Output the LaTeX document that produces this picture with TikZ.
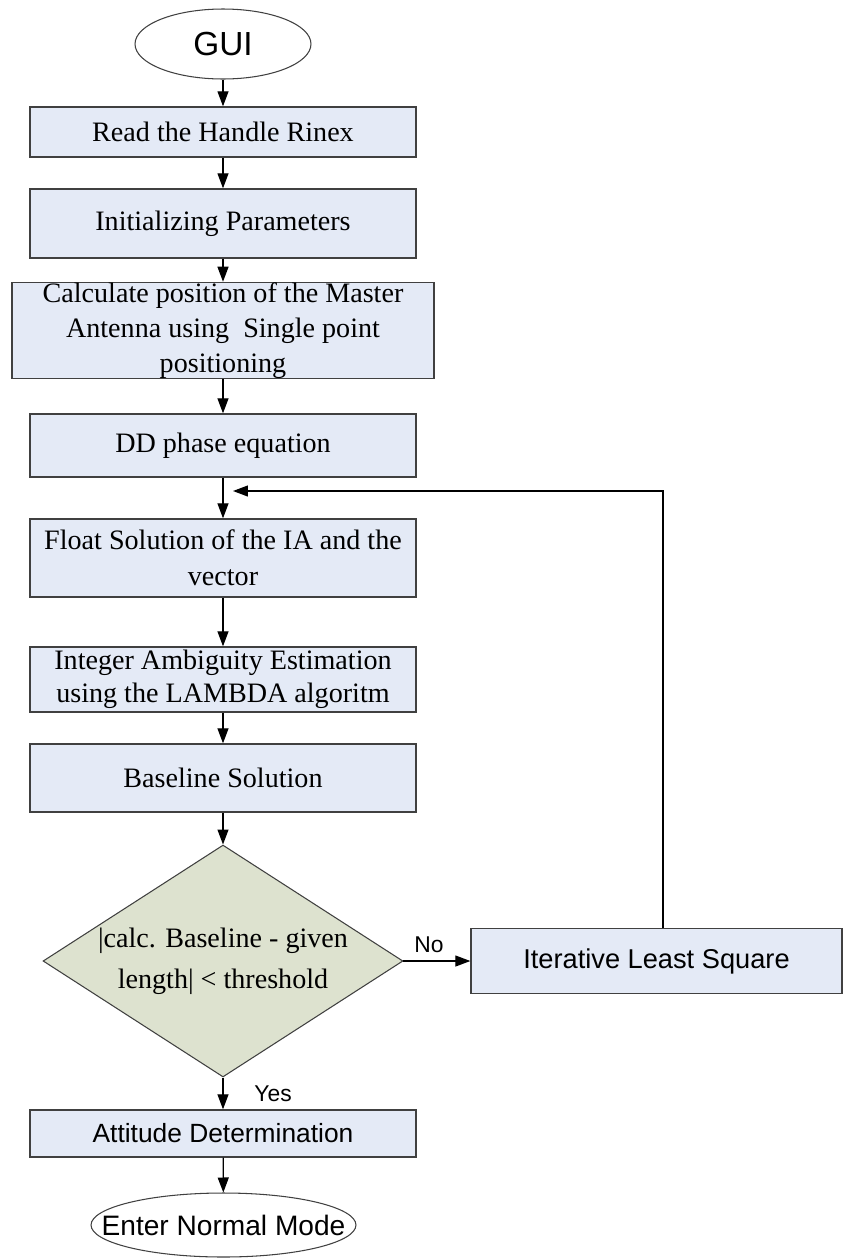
\documentclass[tikz,border=0pt]{standalone}
\usepackage{fontspec}
\setmainfont{Liberation Serif}
\newfontfamily\arialfont{Liberation Sans}
\usepackage{tikz}
\usetikzlibrary{arrows.meta,positioning,shapes.geometric}
\definecolor{BoxBlue}{RGB}{228,234,246}
\definecolor{CheckGreen}{RGB}{221,226,207}
\definecolor{EdgeGray}{RGB}{64,64,64}

\tikzset{
  procbox/.style={draw=EdgeGray,fill=BoxBlue,line width=0.8pt,inner sep=0pt,
    minimum width=7.72cm,align=center,font=\fontsize{16}{20}\selectfont},
  termnode/.style={ellipse,draw=EdgeGray,line width=0.6pt,inner sep=0pt,font=\arialfont},
  flowarrow/.style={-{Triangle[length=3mm,width=2.2mm]},line width=0.7pt}
}

\begin{document}
\begin{tikzpicture}[x=0.02cm,y=-0.02cm]
    \useasboundingbox (0,0) rectangle (846,1258);
    \node[termnode,minimum width=3.52cm,minimum height=1.4cm,font=\arialfont\fontsize{19}{22}\selectfont] (gui) at (223,44) {\makebox[1.5cm]{GUI}};
    \node[procbox,minimum height=1.0cm] (rinex) at (223,132) {Read the Handle Rinex};
    \node[procbox,minimum height=1.38cm] (init) at (223,223.5) {Initializing Parameters};
    \node[procbox,minimum width=8.44cm,minimum height=1.82cm] (spp) at (223,330.5) {Calculate position of the Master\\Antenna using \ Single point\\positioning};
    \node[procbox,minimum height=1.26cm] (ddphase) at (223,445.5) {DD phase equation};
    \node[procbox,minimum height=1.56cm,font=\fontsize{16}{20.4}\selectfont] (floatsol) at (223,558) {Float Solution of the IA and the\\vector};
    \node[procbox,minimum height=1.3cm,font=\fontsize{16}{18.8}\selectfont] (lambda) at (223,679.5) {Integer Ambiguity Estimation\\using the LAMBDA algoritm};
    \node[procbox,minimum height=1.36cm] (baseline) at (223,778) {Baseline Solution};
    \node[diamond,aspect=1.55,draw=EdgeGray,fill=CheckGreen,line width=0.6pt,inner sep=0pt,
      minimum width=7.2cm,minimum height=4.64cm,align=center,font=\fontsize{16}{23.5}\selectfont] (check) at (223,961) {|calc. Baseline - given\\length| {\textless} threshold};
    \node[procbox,minimum width=7.42cm,minimum height=1.3cm,font=\arialfont\fontsize{15.5}{18}\selectfont] (ils) at (656.5,961) {Iterative Least Square};
    \node[procbox,minimum height=0.94cm,font=\arialfont\fontsize{15}{18}\selectfont] (attitude) at (223,1133.5) {Attitude Determination};
    \node[termnode,minimum width=5.3cm,minimum height=1.28cm,font=\arialfont\fontsize{16}{19}\selectfont] (normal) at (223.5,1225) {\makebox[3cm]{Enter Normal Mode}};
    \coordinate (loopin) at (233,491);

    \draw[flowarrow] (gui) -- (rinex);
    \draw[flowarrow] (rinex) -- (init);
    \draw[flowarrow] (init) -- (spp);
    \draw[flowarrow] (spp) -- (ddphase);
    \draw[flowarrow] (ddphase) -- (floatsol);
    \draw[flowarrow] (floatsol) -- (lambda);
    \draw[flowarrow] (lambda) -- (baseline);
    \draw[flowarrow] (baseline) -- (check);
    \draw[flowarrow] (check.east) -- node[pos=0.38,above=1pt,font=\arialfont\fontsize{13}{15}\selectfont] {No} (ils.west);
    \draw[flowarrow] (check.south) -- node[right=5mm,font=\arialfont\fontsize{13}{15}\selectfont] {Yes} (attitude.north);
    \draw[flowarrow] (attitude) -- (normal);
    \draw[flowarrow] ([xshift=0.13cm]ils.north) |- (loopin);
  \end{tikzpicture}
\end{document}
